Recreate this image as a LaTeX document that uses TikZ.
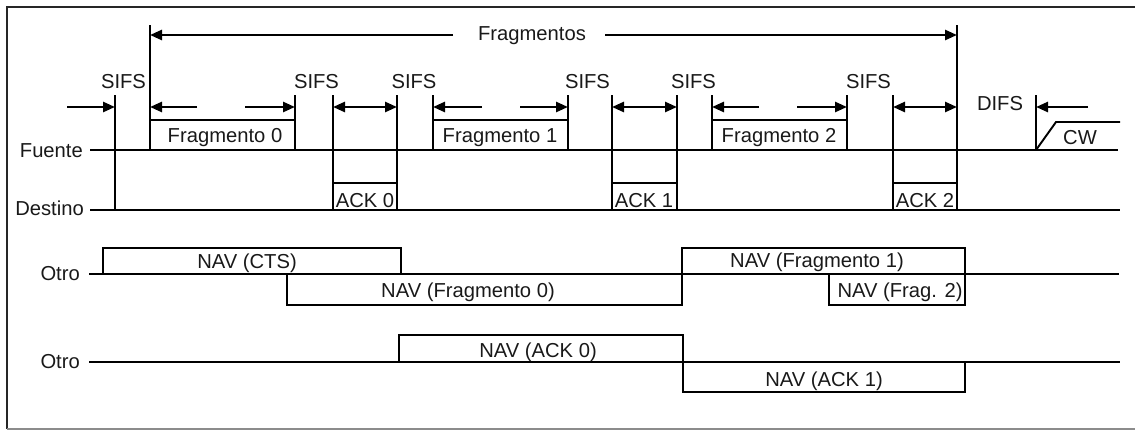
\documentclass[tikz,border=0pt]{standalone}
\usepackage{fontspec}
\setmainfont{Liberation Sans}
\usetikzlibrary{arrows.meta}
\tikzset{
  lbl/.style={font=\fontsize{20.2}{24}\selectfont, text=black!90, inner sep=0pt, anchor=base},
  rlbl/.style={lbl, anchor=base east},
  vline/.style={line width=2.8pt},
  hline/.style={line width=2.4pt},
  boxline/.style={line width=1.9pt},
  navline/.style={line width=2.2pt, line join=miter},
  arrR/.style={line width=2.6pt, -{Triangle[length=12pt,width=10pt]}},
  arrB/.style={line width=2.6pt, {Triangle[length=12pt,width=10pt]}-{Triangle[length=12pt,width=10pt]}},
  framedark/.style={line width=2.4pt, black!85},
  framegray/.style={line width=1.4pt, black!45},
}
\begin{document}
\begin{tikzpicture}[x=1pt,y=-1pt]
\useasboundingbox (0,0) rectangle (1135,431);

% frame
\coordinate (fTL) at (7,7);
\coordinate (fTR) at (1135,7);
\coordinate (fBL) at (7,429);
\coordinate (fBR) at (1135,429);
\draw[framedark] (fTR) -- (fTL) -- (fBL);
\draw[framegray] (fBL) -- (fBR);

% time lines
\coordinate (fu0) at (90,150);  \coordinate (fu1) at (1118,150);
\coordinate (de0) at (90,210);  \coordinate (de1) at (1120,210);
\coordinate (oa0) at (89,274);  \coordinate (oa1) at (1119,274);
\coordinate (ob0) at (89,362);  \coordinate (ob1) at (1120,362);
\draw[hline] (fu0) -- (fu1);
\draw[hline] (de0) -- (de1);
\draw[hline] (oa0) -- (oa1);
\draw[hline] (ob0) -- (ob1);

\node[rlbl] (lFuente)  at (83,157) {Fuente};
\node[rlbl] (lDestino) at (84,215) {Destino};
\node[rlbl] (lOtroA)   at (80,280) {Otro};
\node[rlbl] (lOtroB)   at (80,368) {Otro};

% vertical marks
\foreach \n/\x/\t/\b in {a/115/95/210, b/150/25/150, c/295/95/150, d/333/95/210,
  e/397/95/210, f/433/95/150, g/568/95/150, h/612/95/210, i/677/95/210,
  j/712/95/150, k/847/95/150, l/893/95/210, m/957/25/210, n/1036/95/150}{
  \coordinate (\n t) at (\x,\t);
  \coordinate (\n b) at (\x,\b);
  \coordinate (\n m) at (\x,107);
  \coordinate (\n f) at (\x,35);
  \draw[vline] (\n t) -- (\n b);
}

% Fragmentos arrow
\node[lbl] (lFrag) at (532,40) {Fragmentos};
\coordinate (fgL) at (453,35);
\coordinate (fgR) at (605,35);
\draw[arrR] (fgL) -- (bf);
\draw[arrR] (fgR) -- (mf);

% SIFS / DIFS labels
\node[lbl] (s1) at (123.5,88) {SIFS};
\node[lbl] (s2) at (316.5,88) {SIFS};
\node[lbl] (s3) at (414,88) {SIFS};
\node[lbl] (s4) at (587.5,88) {SIFS};
\node[lbl] (s5) at (693.5,88) {SIFS};
\node[lbl] (s6) at (868.5,88) {SIFS};
\node[lbl] (dfs) at (1000,110) {DIFS};

% arrows at y=107
\coordinate (q1) at (67,107);
\coordinate (q2) at (197,107);
\coordinate (q3) at (245,107);
\coordinate (q5) at (482,107);
\coordinate (q6) at (520,107);
\coordinate (q8) at (759,107);
\coordinate (q9) at (797,107);
\coordinate (q11) at (1088,107);
\draw[arrR] (q1) -- (am);
\draw[arrR] (q2) -- (bm);
\draw[arrR] (q3) -- (cm);
\draw[arrB] (dm) -- (em);
\draw[arrR] (q5) -- (fm);
\draw[arrR] (q6) -- (gm);
\draw[arrB] (hm) -- (im);
\draw[arrR] (q8) -- (jm);
\draw[arrR] (q9) -- (km);
\draw[arrB] (lm) -- (mm);
\draw[arrR] (q11) -- (nm);

% fragment boxes
\draw[boxline] (150,120) -- (295,120);
\draw[boxline] (433,120) -- (568,120);
\draw[boxline] (712,120) -- (847,120);
\node[lbl] (fr0) at (225,142) {Fragmento 0};
\node[lbl] (fr1) at (500,142) {Fragmento 1};
\node[lbl] (fr2) at (779,142) {Fragmento 2};

% ACK boxes
\draw[boxline] (333,183) -- (397,183);
\draw[boxline] (612,183) -- (677,183);
\draw[boxline] (893,183) -- (957,183);
\node[lbl] (ack0) at (365,207) {ACK 0};
\node[lbl] (ack1) at (644,207) {ACK 1};
\node[lbl] (ack2) at (925,207) {ACK 2};

% CW
\coordinate (cw0) at (1036,150);
\coordinate (cw1) at (1056,122);
\coordinate (cw2) at (1120,122);
\draw[boxline] (cw0) -- (cw1) -- (cw2);
\node[lbl] (lcw) at (1080,144) {CW};

% NAV boxes, first Otro
\draw[navline] (103,274) -- (103,248) -- (401,248) -- (401,274);
\node[lbl] (nCTS) at (247,268) {NAV (CTS)};
\draw[navline] (287,274) -- (287,305) -- (682,305) -- (682,274);
\node[lbl] (nF0) at (468,297) {NAV (Fragmento 0)};
\draw[navline] (682,274) -- (682,248) -- (965,248) -- (965,274);
\node[lbl] (nF1) at (817,267) {NAV (Fragmento 1)};
\draw[navline] (829,274) -- (829,305) -- (965,305) -- (965,274);
\node[lbl] (nF2) at (900,297) {NAV (Frag. 2)};

% NAV boxes, second Otro
\draw[navline] (399,362) -- (399,335) -- (683,335) -- (683,362);
\node[lbl] (nA0) at (538,357) {NAV (ACK 0)};
\draw[navline] (683,362) -- (683,392) -- (965,392) -- (965,362);
\node[lbl] (nA1) at (824,386) {NAV (ACK 1)};
\end{tikzpicture}
\end{document}
